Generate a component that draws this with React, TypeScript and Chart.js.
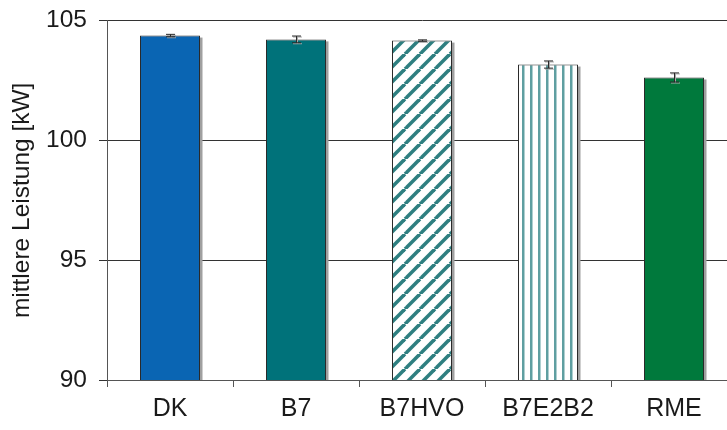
import React, { useEffect, useRef } from "react";
import { Chart, registerables } from "chart.js";

Chart.register(...registerables);

const categories = ["DK", "B7", "B7HVO", "B7E2B2", "RME"];
const values = [104.38, 104.22, 104.17, 103.17, 102.63];
const errors = [0.05, 0.14, 0.03, 0.15, 0.19];
const yTicks = [90, 95, 100, 105];
const axisTitle = "mittlere Leistung [kW]";

const FONT = "'Liberation Sans', Arial, Helvetica, sans-serif";

function makeDiagonal(): CanvasPattern | string {
  const c = document.createElement("canvas");
  const s = 15;
  c.width = s;
  c.height = s;
  const g = c.getContext("2d");
  if (!g) return "#2e7f80";
  g.fillStyle = "#ffffff";
  g.fillRect(0, 0, s, s);
  g.strokeStyle = "#2e7f80";
  g.lineWidth = 3.6;
  for (const o of [-s, 0, s]) {
    g.beginPath();
    g.moveTo(o, s);
    g.lineTo(o + s, 0);
    g.stroke();
  }
  return g.createPattern(c, "repeat") || "#2e7f80";
}

function makeVertical(): CanvasPattern | string {
  const c = document.createElement("canvas");
  c.width = 8;
  c.height = 8;
  const g = c.getContext("2d");
  if (!g) return "#5a9c9e";
  g.fillStyle = "#ffffff";
  g.fillRect(0, 0, 8, 8);
  g.fillStyle = "#5f9fa1";
  g.fillRect(2, 0, 2.5, 8);
  return g.createPattern(c, "repeat") || "#5a9c9e";
}

export default function App() {
  const ref = useRef<HTMLCanvasElement | null>(null);

  useEffect(() => {
    document.body.style.margin = "0";
    document.body.style.overflow = "hidden";
    const canvas = ref.current;
    if (!canvas) return;

    const colors = ["#0a65b3", "#00727a", makeDiagonal(), makeVertical(), "#00793c"];

    const shadowPlugin = {
      id: "barShadow",
      beforeDatasetsDraw(chart: any) {
        const ctx = chart.ctx;
        const meta = chart.getDatasetMeta(0);
        const bottom = chart.chartArea.bottom;
        ctx.save();
        ctx.fillStyle = "#a0a0a0";
        meta.data.forEach((bar: any) => {
          const p = bar.getProps(["x", "y", "width"], true);
          ctx.fillRect(p.x + p.width / 2, p.y + 2, 2.5, bottom - p.y - 2);
        });
        ctx.restore();
      },
    };

    const errorPlugin = {
      id: "errorBars",
      afterDatasetsDraw(chart: any) {
        const ctx = chart.ctx;
        const ys = chart.scales.y;
        const meta = chart.getDatasetMeta(0);
        ctx.save();
        meta.data.forEach((bar: any, i: number) => {
          const x = Math.round(bar.x) + 0.5;
          const hi = ys.getPixelForValue(values[i] + errors[i]);
          const lo = ys.getPixelForValue(values[i] - errors[i]);
          const cap = 4.5;
          ctx.strokeStyle = "#a8a8a8";
          ctx.lineWidth = 1;
          ctx.beginPath();
          ctx.moveTo(x + 1, hi + 1);
          ctx.lineTo(x + 1, lo + 1);
          ctx.moveTo(x - cap + 1, hi + 1);
          ctx.lineTo(x + cap + 1, hi + 1);
          ctx.moveTo(x - cap + 1, lo + 1);
          ctx.lineTo(x + cap + 1, lo + 1);
          ctx.stroke();
          ctx.strokeStyle = "#2a2a2a";
          ctx.beginPath();
          ctx.moveTo(x, hi);
          ctx.lineTo(x, lo);
          ctx.moveTo(x - cap, hi);
          ctx.lineTo(x + cap, hi);
          ctx.moveTo(x - cap, lo);
          ctx.lineTo(x + cap, lo);
          ctx.stroke();
        });
        ctx.restore();
      },
    };

    const chart = new Chart(canvas, {
      type: "bar",
      data: {
        labels: categories,
        datasets: [
          {
            data: values,
            backgroundColor: colors as any,
            borderColor: "#2a2a2a",
            borderWidth: 1,
            borderSkipped: false,
            barPercentage: 1,
            categoryPercentage: 60 / 126,
          },
        ],
      },
      options: {
        responsive: false,
        animation: false,
        devicePixelRatio: 1,
        layout: { padding: { top: 13, right: 3, left: 0, bottom: 0 } },
        plugins: {
          legend: { display: false },
          tooltip: { enabled: false },
        },
        scales: {
          x: {
            offset: true,
            grid: {
              offset: true,
              drawOnChartArea: false,
              drawTicks: true,
              tickLength: 7,
              color: "#555555",
            },
            border: { display: true, color: "#555555", width: 1 },
            ticks: {
              color: "#1a1a1a",
              font: { family: FONT, size: 25 },
              padding: 7,
            },
            afterFit(scale: any) {
              scale.height = 50;
            },
          },
          y: {
            min: 90,
            max: 105,
            afterBuildTicks(scale: any) {
              scale.ticks = yTicks.map((v) => ({ value: v }));
            },
            grid: {
              color: "#333333",
              lineWidth: 1,
              tickLength: 8,
              drawTicks: true,
            },
            border: { display: true, color: "#555555", width: 1 },
            ticks: {
              color: "#1a1a1a",
              font: { family: FONT, size: 24.5 },
              padding: 12,
            },
            title: {
              display: true,
              text: axisTitle,
              color: "#1a1a1a",
              font: { family: FONT, size: 24.5 },
              padding: { top: 8, bottom: 0 },
            },
            afterFit(scale: any) {
              scale.width = 107;
            },
          },
        },
      },
      plugins: [shadowPlugin, errorPlugin],
    });

    return () => chart.destroy();
  }, []);

  return (
    <div style={{ width: 727, height: 430, overflow: "hidden", position: "relative" }}>
      <canvas
        ref={ref}
        width={740}
        height={436}
        style={{ display: "block", marginTop: -6 }}
      />
    </div>
  );
}
